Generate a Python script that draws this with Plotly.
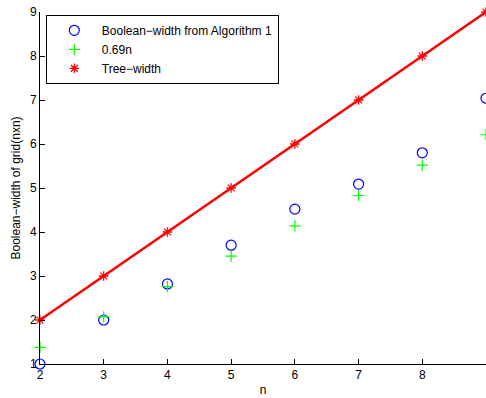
import plotly.graph_objects as go

n_vals = [2, 3, 4, 5, 6, 7, 8, 9]
boolean_width = [1.0, 2.0, 2.82, 3.70, 4.52, 5.09, 5.80, 7.04]
approx_069n = [1.38, 2.07, 2.76, 3.45, 4.14, 4.83, 5.52, 6.21]
tree_width = [2, 3, 4, 5, 6, 7, 8, 9]
x_ticks = [2, 3, 4, 5, 6, 7, 8, 9]
y_ticks = [1, 2, 3, 4, 5, 6, 7, 8, 9]

fig = go.Figure()
fig.add_trace(go.Scatter(
    x=n_vals, y=tree_width, mode="lines", showlegend=False, hoverinfo="skip",
    line=dict(color="#ff0000", width=2.5), cliponaxis=False))
fig.add_trace(go.Scatter(
    x=n_vals, y=boolean_width, mode="markers", name="Boolean\u2212width from Algorithm 1",
    marker=dict(symbol="circle-open", size=10, color="#0000ff", line=dict(width=1.2, color="#0000ff")),
    cliponaxis=False))
fig.add_trace(go.Scatter(
    x=n_vals, y=approx_069n, mode="markers", name="0.69n",
    marker=dict(symbol="cross-thin-open", size=8, color="#00ff00", line=dict(width=1.2, color="#00ff00")),
    cliponaxis=False))
fig.add_trace(go.Scatter(
    x=n_vals, y=tree_width, mode="markers", name="Tree\u2212width",
    marker=dict(symbol="asterisk-open", size=8, color="#ff0000", line=dict(width=1.3, color="#ff0000")),
    cliponaxis=False))

fig.update_layout(
    width=486, height=398,
    margin=dict(l=40, r=0, t=12, b=34, autoexpand=False),
    paper_bgcolor="white", plot_bgcolor="white",
    font=dict(family="Liberation Sans, Arial, sans-serif", size=12, color="black"),
    showlegend=True,
    legend=dict(
        x=0.013, y=0.992, xanchor="left", yanchor="top",
        bgcolor="white", bordercolor="black", borderwidth=1,
        font=dict(size=12), itemwidth=45, tracegroupgap=0,
    ),
    xaxis=dict(
        range=[2, 9], tickvals=x_ticks, ticks="inside", ticklen=5, tickcolor="black",
        showline=True, linecolor="black", linewidth=1, showgrid=False, zeroline=False,
        automargin=False,
        title=dict(text="n", standoff=4, font=dict(size=12)),
    ),
    yaxis=dict(
        range=[1, 9], tickvals=y_ticks, ticks="inside", ticklen=5, tickcolor="black",
        showline=True, linecolor="black", linewidth=1, showgrid=False, zeroline=False,
        automargin=False,
        title=dict(text="Boolean\u2212width of grid(nxn)", standoff=6, font=dict(size=12)),
    ),
)

fig.write_html(
    "out.html",
    config={"displayModeBar": False},
    post_script="document.body.style.margin='0';document.body.style.overflow='hidden';",
)
